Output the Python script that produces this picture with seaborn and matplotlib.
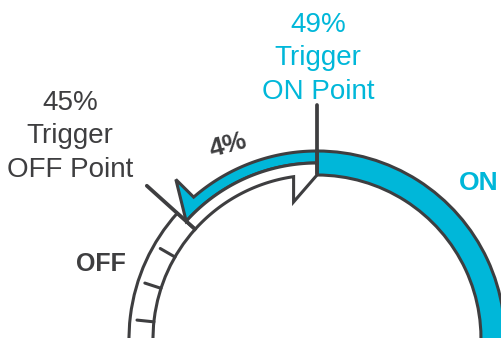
import numpy as np
import pandas as pd
import matplotlib
matplotlib.use("Agg")
import matplotlib.pyplot as plt
from matplotlib.patches import Wedge, Polygon
import seaborn as sns

# dial values (percent)
trigger_pct = [45, 49]
trigger_labels = ["45%\nTrigger\nOFF Point", "49%\nTrigger\nON Point"]
tick_pct = [42, 43, 44]
hyst_label = "4%"
state_labels = ["OFF", "ON"]

dark = "#3e3e40"
cyan = "#00b7d9"

sns.set_theme(style="white")
plt.rcParams['font.family'] = ['Liberation Sans', 'DejaVu Sans']

# geometry in pixels, dial centre at (cx, cy)
cx, cy = 317, 339
R_o, R_m, R_i = 188, 176, 164
deg_per_pct = 12
lw = 2.2


def ang(p):
    # 49% sits straight up, lower values go anticlockwise
    return 90 + (trigger_pct[1] - p) * deg_per_pct


def pol(a, r):
    t = np.radians(a)
    return [r * np.cos(t), r * np.sin(t)]


def arc(a0, a1, r, n=80):
    t = np.radians(np.linspace(a0, a1, n))
    return np.column_stack([r * np.cos(t), r * np.sin(t)])


def px(x, y):
    return x - cx, cy - y


fig = plt.figure(figsize=(5.01, 3.38), dpi=100)
ax = fig.add_axes([0, 0, 1, 1])
ax.set_xlim(-cx, 501 - cx)
ax.set_ylim(cy - 338, cy)
ax.axis('off')

a_off = ang(trigger_pct[0])
a_on = ang(trigger_pct[1])

# ON band (blue) and OFF band (white)
ax.add_patch(Wedge((0, 0), R_o, a_on - 130, a_on, width=R_o - R_i,
                   fc=cyan, ec=dark, lw=lw, zorder=2))
ax.add_patch(Wedge((0, 0), R_o, a_off, a_off + 70, width=R_o - R_i,
                   fc="white", ec=dark, lw=lw, zorder=2))

# hysteresis arrows between the two trigger points
blue_arrow = np.vstack([arc(a_on, a_off - 7, R_o),
                        [pol(a_off - 6.5, R_o + 25)],
                        [pol(a_off, R_m)],
                        arc(a_off, a_on, R_m)])
ax.add_patch(Polygon(blue_arrow, closed=True, fc=cyan, ec=dark, lw=lw,
                     joinstyle='miter', zorder=3))
white_arrow = np.vstack([arc(a_off, a_on, R_m),
                         [pol(a_on, R_i)],
                         [pol(a_on + 9.7, R_i - 25)],
                         [pol(a_on + 8.2, R_i)],
                         arc(a_on + 8.2, a_off, R_i)])
ax.add_patch(Polygon(white_arrow, closed=True, fc="white", ec=dark, lw=lw,
                     joinstyle='miter', zorder=3))

# scale ticks on the OFF band
rows = []
for p in tick_pct:
    for r in (R_i, R_i + 17):
        x, y = pol(ang(p), r)
        rows.append({'tick': p, 'x': x, 'y': y})
ticks = pd.DataFrame(rows)
sns.lineplot(data=ticks, x='x', y='y', units='tick', estimator=None, sort=False,
             color=dark, lw=lw, ax=ax, zorder=4)

# trigger lines
rows = []
for p, r_out in zip(trigger_pct, (229, 234)):
    for r in (R_i + 1, r_out):
        x, y = pol(ang(p), r)
        rows.append({'pct': p, 'x': x, 'y': y})
trig = pd.DataFrame(rows)
sns.lineplot(data=trig, x='x', y='y', units='pct', estimator=None, sort=False,
             color=dark, lw=2.7, ax=ax, zorder=5, solid_capstyle='round')
ax.set_xlabel('')
ax.set_ylabel('')

# labels
ax.text(*px(70, 90), trigger_labels[0], color=dark, fontsize=20, ha='center',
        va='top', linespacing=1.37)
ax.text(*px(318, 12), trigger_labels[1], color=cyan, fontsize=20, ha='center',
        va='top', linespacing=1.37)
ax.text(*px(228, 145), hyst_label, color=dark, fontsize=19, fontweight='bold',
        ha='center', va='center', rotation=15)
ax.text(*px(101, 264), state_labels[0], color=dark, fontsize=18,
        fontweight='bold', ha='center', va='center')
ax.text(*px(479, 183), state_labels[1], color=cyan, fontsize=19,
        fontweight='bold', ha='center', va='center')

fig.savefig("out.png", dpi=100)
